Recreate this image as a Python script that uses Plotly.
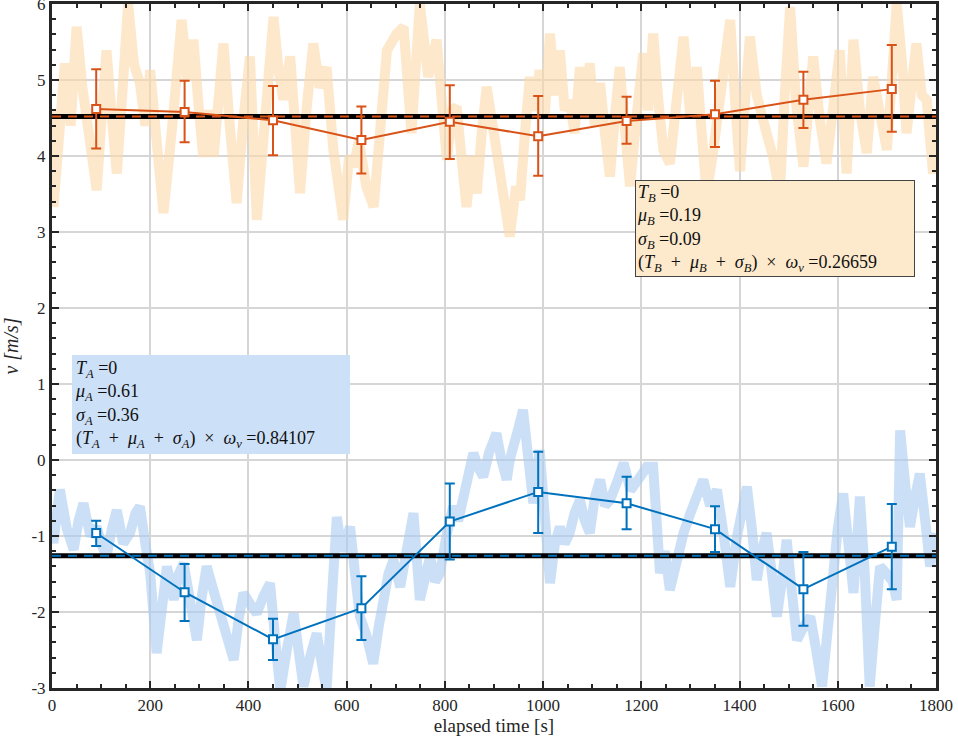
import plotly.graph_objects as go

# ---------------- data ----------------
t_bins = [90, 270, 450, 630, 810, 990, 1170, 1350, 1530, 1710]

b_mean_vals = [4.62, 4.58, 4.47, 4.21, 4.45, 4.26, 4.46, 4.55, 4.74, 4.88]
b_upper = [5.14, 4.99, 4.92, 4.65, 4.93, 4.79, 4.78, 4.99, 5.11, 5.46]
b_lower = [4.10, 4.18, 4.01, 3.77, 3.96, 3.74, 4.16, 4.12, 4.37, 4.32]

a_mean_vals = [-0.96, -1.74, -2.36, -1.95, -0.81, -0.42, -0.57, -0.91, -1.70, -1.14]
a_upper = [-0.80, -1.37, -2.09, -1.53, -0.31, 0.11, -0.22, -0.61, -1.21, -0.58]
a_lower = [-1.13, -2.12, -2.63, -2.37, -1.31, -0.96, -0.91, -1.21, -2.18, -1.70]

b_overall = 4.52
a_overall = -1.26

b_t = [0, 3, 15, 26, 38, 50, 62, 75, 91, 100, 111, 122, 132, 143, 155, 167, 179, 190, 200, 213,
       227, 245, 264, 276, 288, 298, 308, 318, 329, 340, 349, 362, 376, 390, 403, 417, 432, 451,
       462, 471, 485, 495, 505, 518, 532, 545, 559, 573, 593, 605, 614, 625, 640, 655, 668, 682,
       702, 716, 725, 732, 749, 766, 783, 795, 804, 815, 824, 835, 844, 855, 865, 875, 885, 905,
       918, 932, 945, 953, 963, 973, 983, 993, 1003, 1014, 1024, 1034, 1044, 1054, 1064, 1075,
       1085, 1095, 1105, 1116, 1126, 1136, 1146, 1156, 1166, 1177, 1190, 1204, 1214, 1224, 1235,
       1245, 1258, 1270, 1286, 1300, 1313, 1323, 1333, 1345, 1358, 1370, 1381, 1392, 1401, 1411,
       1421, 1435, 1445, 1455, 1468, 1482, 1492, 1503, 1515, 1530, 1540, 1550, 1563, 1577, 1590,
       1604, 1618, 1632, 1645, 1659, 1672, 1686, 1700, 1710, 1720, 1730, 1740, 1750, 1760, 1771,
       1781, 1794, 1800]
b_v = [4.6, 3.33, 4.3, 5.22, 4.4, 5.70, 4.9, 4.2, 3.55, 4.4, 5.39, 4.5, 3.77, 4.8, 6.0, 5.2, 4.96,
       4.4, 5.13, 4.2, 3.25, 4.4, 5.79, 5.0, 5.53, 4.7, 3.99, 4.6, 3.99, 4.8, 5.48, 4.4, 3.38, 4.5,
       5.31, 3.16, 4.5, 5.83, 5.1, 4.74, 5.31, 4.4, 3.51, 4.6, 5.48, 4.9, 5.17, 4.08, 3.16, 4.0,
       3.86, 4.2, 3.6, 3.33, 4.5, 5.39, 5.61, 5.70, 4.9, 4.30, 6.0, 5.04, 5.53, 4.8, 3.95, 4.6,
       4.65, 3.9, 3.33, 4.0, 3.51, 4.3, 4.91, 4.08, 3.5, 2.94, 3.6, 3.42, 4.3, 5.04, 4.6, 5.13,
       4.5, 5.61, 4.8, 5.39, 4.6, 4.74, 4.3, 5.17, 4.5, 5.22, 4.4, 4.96, 4.3, 3.73, 4.5, 5.17,
       4.4, 3.6, 4.5, 5.35, 4.6, 5.61, 4.7, 4.08, 3.9, 4.6, 5.57, 4.5, 5.17, 4.3, 3.5, 4.0, 4.6,
       5.2, 5.79, 4.6, 3.8, 4.7, 5.57, 4.8, 4.6, 4.30, 4.0, 3.5, 4.8, 5.96, 4.7, 3.86, 4.6, 5.31,
       4.5, 3.9, 4.6, 5.39, 3.77, 5.53, 4.6, 4.04, 5.04, 4.6, 4.08, 5.0, 6.0, 5.3, 4.30, 4.9,
       5.48, 4.8, 4.74, 3.77, 4.5]

a_t = [0, 3, 10, 16, 30, 44, 54, 64, 78, 91, 100, 111, 122, 132, 145, 159, 170, 179, 190, 200,
       213, 224, 234, 248, 258, 268, 282, 295, 305, 315, 328, 342, 355, 370, 380, 390, 404, 417,
       430, 444, 455, 465, 478, 492, 502, 512, 525, 539, 550, 559, 570, 580, 590, 600, 607, 617,
       627, 640, 654, 665, 675, 685, 695, 709, 722, 736, 749, 760, 770, 780, 790, 803, 817, 827,
       837, 848, 858, 868, 878, 890, 905, 915, 926, 932, 939, 949, 959, 970, 980, 987, 993, 1003,
       1014, 1024, 1034, 1044, 1054, 1064, 1075, 1085, 1095, 1105, 1116, 1126, 1136, 1150, 1164,
       1178, 1191, 1200, 1211, 1224, 1238, 1248, 1258, 1272, 1286, 1300, 1313, 1326, 1340, 1354,
       1368, 1381, 1395, 1415, 1425, 1435, 1445, 1455, 1466, 1476, 1486, 1496, 1506, 1517, 1530,
       1544, 1556, 1568, 1580, 1591, 1600, 1611, 1622, 1632, 1640, 1645, 1655, 1665, 1675, 1686,
       1700, 1712, 1720, 1727, 1737, 1747, 1757, 1767, 1778, 1788, 1798]
a_v = [-1.0, -1.09, -0.7, -0.39, -0.9, -1.18, -0.8, -0.57, -1.0, -0.88, -1.1, -1.27, -0.9, -0.66,
       -1.1, -0.96, -0.7, -0.61, -1.1, -1.49, -2.54, -1.9, -1.40, -1.84, -1.5, -1.36, -1.9, -2.37,
       -1.8, -1.40, -1.7, -2.02, -2.3, -2.63, -2.1, -1.75, -1.9, -2.02, -1.8, -1.62, -2.4, -3.03,
       -2.5, -2.02, -2.5, -2.98, -2.6, -2.28, -2.7, -3.03, -1.8, -0.75, -1.2, -1.05, -0.88, -1.5,
       -2.06, -2.3, -2.68, -2.2, -1.84, -1.5, -1.32, -1.67, -1.2, -0.70, -1.84, -1.5, -1.27, -1.6,
       -1.49, -1.0, -0.61, -0.8, -0.53, -0.3, 0.09, -0.1, -0.22, 0.1, 0.35, 0.0, -0.26, 0.0, 0.22,
       0.4, 0.66, 0.1, -0.57, -0.2, 0.13, -0.7, -1.62, -1.1, -0.88, -1.1, -0.96, -0.7, -0.53, -0.8,
       -0.96, -0.5, -0.26, -0.6, -0.53, -0.3, -0.04, -0.4, -0.31, -0.2, -0.09, -0.09, -1.49, -1.2,
       -1.71, -1.3, -0.96, -0.7, -0.5, -0.26, -0.6, -0.39, -1.0, -1.67, -1.0, -0.35, -0.9, -1.58,
       -1.2, -0.96, -1.5, -2.06, -1.6, -1.05, -1.7, -2.37, -2.2, -2.06, -2.5, -2.98, -2.2, -1.40,
       -0.9, -0.44, -1.1, -1.75, -1.0, -0.48, -1.5, -2.98, -2.2, -1.40, -1.5, -1.6, -1.84, 0.39,
       -0.3, -0.88, -0.5, -0.18, -0.8, -1.40, -0.96]

x_ticks = [0, 200, 400, 600, 800, 1000, 1200, 1400, 1600, 1800]
y_ticks = [-3, -2, -1, 0, 1, 2, 3, 4, 5, 6]
y_tick_text = ["-3", "-2", "-1", "0", "1", "2", "3", "4", "5", "6"]

SP = "&nbsp;"
text_b = ("<i>T<sub>B</sub></i> =0<br><i>μ<sub>B</sub></i> =0.19<br><i>σ<sub>B</sub></i> =0.09<br>"
          f"(<i>T<sub>B</sub></i>{SP}{SP}+{SP}{SP}<i>μ<sub>B</sub></i>{SP}{SP}+{SP}{SP}<i>σ<sub>B</sub></i>)"
          f"{SP}{SP}×{SP}{SP}<i>ω<sub>v</sub></i> =0.26659")
text_a = ("<i>T<sub>A</sub></i> =0<br><i>μ<sub>A</sub></i> =0.61<br><i>σ<sub>A</sub></i> =0.36<br>"
          f"(<i>T<sub>A</sub></i>{SP}{SP}+{SP}{SP}<i>μ<sub>A</sub></i>{SP}{SP}+{SP}{SP}<i>σ<sub>A</sub></i>)"
          f"{SP}{SP}×{SP}{SP}<i>ω<sub>v</sub></i> =0.84107")

# ---------------- style ----------------
ORANGE = "#d95319"
BLUE = "#0072bd"
FONT = "Liberation Serif, serif"

fig = go.Figure()

fig.add_trace(go.Scatter(x=b_t, y=b_v, mode="lines", opacity=0.6,
                         line=dict(color="rgb(253,218,170)", width=10), hoverinfo="skip"))
fig.add_trace(go.Scatter(x=a_t, y=a_v, mode="lines", opacity=0.6,
                         line=dict(color="rgb(170,205,243)", width=10), hoverinfo="skip"))

for m, c in [(b_overall, ORANGE), (a_overall, BLUE)]:
    fig.add_trace(go.Scatter(x=[0, 1800], y=[m, m], mode="lines",
                             line=dict(color="black", width=5)))
    fig.add_trace(go.Scatter(x=[0, 1800], y=[m, m], mode="lines",
                             line=dict(color=c, width=2.2, dash="9px,7px")))

for vals, up, lo, c in [(b_mean_vals, b_upper, b_lower, ORANGE),
                        (a_mean_vals, a_upper, a_lower, BLUE)]:
    fig.add_trace(go.Scatter(
        x=t_bins, y=vals, mode="lines+markers",
        line=dict(color=c, width=2),
        marker=dict(symbol="square", size=8, color="white", line=dict(color=c, width=2)),
        error_y=dict(type="data", symmetric=False,
                     array=[u - v for u, v in zip(up, vals)],
                     arrayminus=[v - l for l, v in zip(lo, vals)],
                     color=c, thickness=2, width=5)))

fig.add_annotation(x=1187, y=3.68, xref="x", yref="y", xanchor="left", yanchor="top",
                   text=text_b, align="left", valign="top", showarrow=False,
                   font=dict(family=FONT, size=18, color="#111111"),
                   bgcolor="#fde9cb", bordercolor="#444444", borderwidth=1,
                   borderpad=1, width=276)
fig.add_annotation(x=41, y=1.38, xref="x", yref="y", xanchor="left", yanchor="top",
                   text=text_a, align="left", valign="top", showarrow=False,
                   font=dict(family=FONT, size=18, color="#111111"),
                   bgcolor="#cce0f7", borderwidth=0,
                   borderpad=3, width=272)

axis_common = dict(showline=True, linewidth=3, linecolor="#262626", mirror="allticks",
                   ticks="inside", ticklen=7, tickwidth=2, tickcolor="#262626",
                   showgrid=True, gridcolor="#d6d6d6", gridwidth=2, zeroline=False,
                   automargin=False, ticklabeloverflow="allow",
                   tickfont=dict(family=FONT, size=17, color="#262626"))

fig.update_xaxes(range=[0, 1800], tickvals=x_ticks,
                 minor=dict(ticks="inside", ticklen=4, tickwidth=2, tickcolor="#262626",
                            dtick=50, showgrid=False),
                 title=dict(text="elapsed time [s]", standoff=0,
                            font=dict(family=FONT, size=19, color="#262626")),
                 **axis_common)
fig.update_yaxes(range=[-3, 6], tickvals=y_ticks, ticktext=y_tick_text,
                 minor=dict(ticks="inside", ticklen=4, tickwidth=2, tickcolor="#262626",
                            dtick=0.2, showgrid=False),
                 title=dict(text="<i>v [m/s]</i>", standoff=8,
                            font=dict(family=FONT, size=20, color="#262626")),
                 **axis_common)

fig.update_layout(width=958, height=744, showlegend=False,
                  margin=dict(l=52, r=22, t=4, b=56),
                  font=dict(family=FONT),
                  plot_bgcolor="white", paper_bgcolor="white")

fig.write_html("out.html", config={"displayModeBar": False},
               post_script="document.body.style.margin='0';")
